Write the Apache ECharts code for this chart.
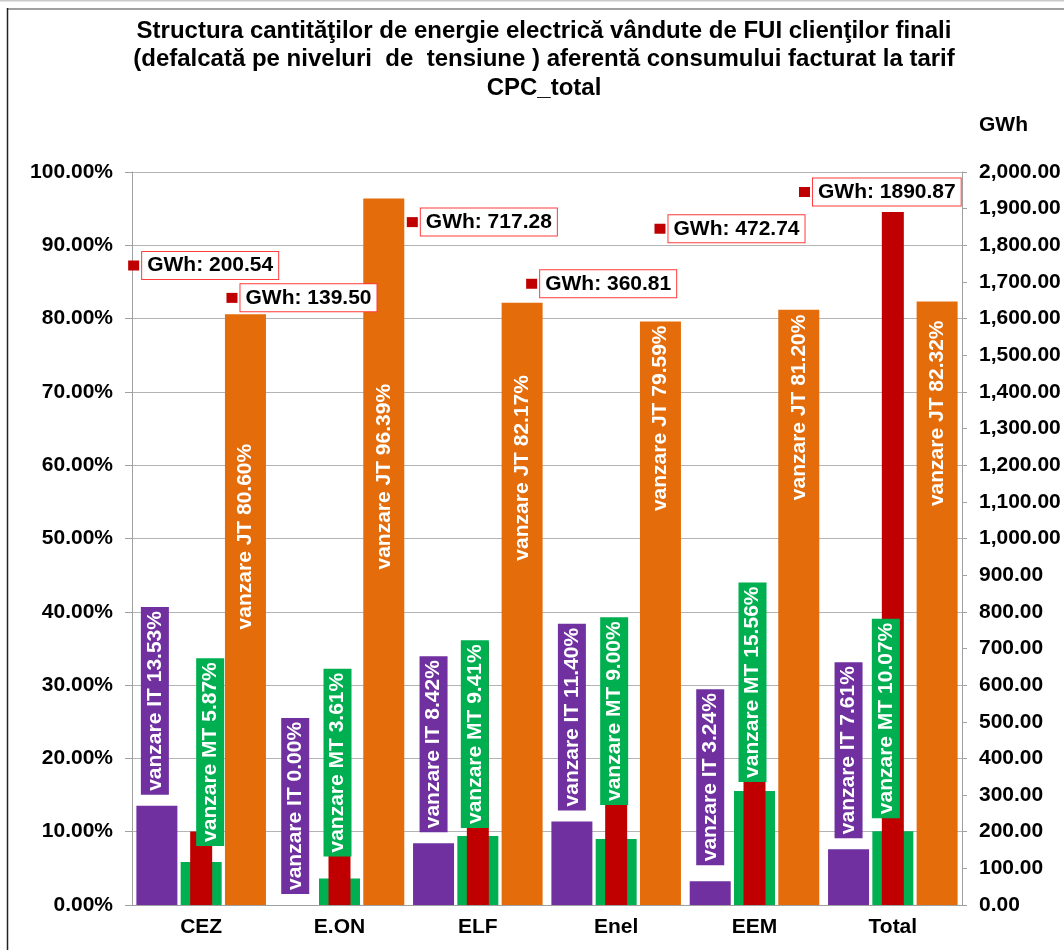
<!DOCTYPE html>
<html>
<head>
<meta charset="utf-8">
<title>Structura cantităţilor de energie electrică vândute de FUI clienţilor finali</title>
<script src="https://cdn.jsdelivr.net/npm/echarts@6/dist/echarts.min.js"></script>
<style>
  html, body { margin: 0; padding: 0; background: #fff; }
  #main { width: 1064px; height: 950px; }
</style>
</head>
<body>
<div id="main"></div>
<script>
// categories and values
var categories = ['CEZ', 'E.ON', 'ELF', 'Enel', 'EEM', 'Total'];
var itShare = [13.53, 0.00, 8.42, 11.40, 3.24, 7.61];     // % vanzare IT
var mtShare = [5.87, 3.61, 9.41, 9.00, 15.56, 10.07];     // % vanzare MT
var jtShare = [80.60, 96.39, 82.17, 79.59, 81.20, 82.32]; // % vanzare JT
var gwh = [200.54, 139.50, 717.28, 360.81, 472.74, 1890.87];

// hand placed labels (screen pixel shifts [dx, dy]), like the moved labels in the original
var itLabelShift = [[-2, 0], [0, 0], [0, 0], [0, 0], [0, -5], [0, 0]];
var mtLabelShift = [[9, -5], [-2, -11], [-3, 3], [-2, -23], [-2, 2], [-7, -2]];
var jtLabelShift = [-73, -75, -136, -195, -200, -190];
var gwhLabelShift = [[2, -566], [-38, -556], [4, -420], [-15, -489], [-25, -503], [-13, -20]];

var font = '"Liberation Sans", Arial, sans-serif';
var purple = '#7030A0', green = '#00B050', orange = '#E46C0A', red = '#C00000';
var gridColor = '#b4b4b4', axisColor = '#a0a0a0';

function pct(v) { return v.toFixed(2) + '%'; }
function thousands(v) {
	var s = v.toFixed(2).split('.');
	return s[0].replace(/\B(?=(\d{3})+(?!\d))/g, ',') + '.' + s[1];
}
// labels are turned 90deg, so their offset is given in the turned frame
function turned(dx, dy) { return [-dy, dx]; }

function boxLabel(name, color) {
	return {
		show: true,
		position: 'top',
		distance: 11,
		rotate: 90,
		align: 'left',
		verticalAlign: 'middle',
		color: '#fff',
		fontFamily: font,
		fontSize: 21,
		fontWeight: 'bold',
		backgroundColor: color,
		padding: [4, 4, 3, 4],
		formatter: function (p) { return 'vanzare ' + name + ' ' + pct(p.value); }
	};
}

var itData = itShare.map(function (v, i) {
	return { value: v, label: { offset: turned(itLabelShift[i][0], itLabelShift[i][1]) } };
});
var mtData = mtShare.map(function (v, i) {
	return { value: v, label: { offset: turned(mtLabelShift[i][0], mtLabelShift[i][1]) } };
});
var jtData = jtShare.map(function (v, i) {
	return { value: v, label: { offset: turned(0, jtLabelShift[i]) } };
});
var gwhData = gwh.map(function (v, i) {
	return { value: v, label: { offset: gwhLabelShift[i] } };
});

var chart = echarts.init(document.getElementById('main'));

var option = {
	backgroundColor: '#fff',
	animation: false,
	title: {
		text: 'Structura cantităţilor de energie electrică vândute de FUI clienţilor finali\n' +
			'(defalcată pe niveluri  de  tensiune ) aferentă consumului facturat la tarif\n' +
			'CPC_total',
		left: 544,
		top: 17,
		padding: 0,
		textAlign: 'center',
		textStyle: { fontFamily: font, fontSize: 24, fontWeight: 'bold', color: '#000', lineHeight: 28.5 }
	},
	grid: { left: 132, right: 102, top: 172, bottom: 45 },
	xAxis: [
		{
			type: 'category',
			data: categories,
			axisLine: { lineStyle: { color: axisColor } },
			axisTick: { length: 5, lineStyle: { color: axisColor } },
			axisLabel: { margin: 12, color: '#000', fontFamily: font, fontSize: 21, fontWeight: 'bold' }
		},
		{ type: 'category', data: categories, show: false }
	],
	yAxis: [
		{
			type: 'value',
			min: 0, max: 100, interval: 10,
			axisLine: { show: true, lineStyle: { color: axisColor } },
			axisTick: { show: true, length: 7, lineStyle: { color: axisColor } },
			axisLabel: { margin: 19, color: '#000', fontFamily: font, fontSize: 21, fontWeight: 'bold', formatter: pct },
			splitLine: { lineStyle: { color: gridColor } }
		},
		{
			type: 'value',
			position: 'right',
			min: 0, max: 2000, interval: 100,
			name: 'GWh',
			nameLocation: 'end',
			nameGap: 36,
			nameTextStyle: { color: '#000', fontFamily: font, fontSize: 21, fontWeight: 'bold', align: 'left', padding: [0, 0, 0, 17] },
			axisLine: { show: true, lineStyle: { color: axisColor } },
			axisTick: { show: true, length: 5, lineStyle: { color: axisColor } },
			axisLabel: { margin: 17, color: '#000', fontFamily: font, fontSize: 21, fontWeight: 'bold', formatter: thousands },
			splitLine: { show: false }
		}
	],
	series: [
		{
			name: 'vanzare IT', type: 'bar', data: itData,
			barWidth: 41, barGap: '8%',
			itemStyle: { color: purple },
			label: boxLabel('IT', purple)
		},
		{
			name: 'vanzare MT', type: 'bar', data: mtData,
			barWidth: 41, barGap: '8%',
			itemStyle: { color: green },
			label: boxLabel('MT', green)
		},
		{
			name: 'vanzare JT', type: 'bar', data: jtData,
			barWidth: 41, barGap: '8%',
			itemStyle: { color: orange },
			label: {
				show: true, position: 'inside', rotate: 90,
				align: 'center', verticalAlign: 'middle', overflow: 'none',
				color: '#fff', fontFamily: font, fontSize: 21, fontWeight: 'bold',
				formatter: function (p) { return 'vanzare JT ' + pct(p.value); }
			}
		},
		{
			name: 'GWh', type: 'bar', data: gwhData,
			xAxisIndex: 1, yAxisIndex: 1,
			barWidth: 22,
			itemStyle: { color: red },
			label: {
				show: true, position: 'top', distance: 0,
				align: 'center', verticalAlign: 'middle',
				formatter: function (p) { return '{k|}{g|}{b|GWh: ' + p.value.toFixed(2) + '}'; },
				rich: {
					k: { width: 11, height: 10, backgroundColor: red },
					g: { width: 3 },
					b: {
						color: '#000', fontFamily: font, fontSize: 21, fontWeight: 'bold',
						backgroundColor: '#fff', borderColor: '#ff3b3b', borderWidth: 1,
						padding: [3, 5, 3, 5], lineHeight: 22
					}
				}
			}
		}
	],
	graphic: [
		{ type: 'line', shape: { x1: 0, y1: 0.5, x2: 1064, y2: 0.5 }, style: { stroke: '#c8c8c8', lineWidth: 2 } },
		{ type: 'line', shape: { x1: 7, y1: 9, x2: 1064, y2: 9 }, style: { stroke: '#808080', lineWidth: 1.5 } },
		{ type: 'line', shape: { x1: 7.5, y1: 8, x2: 7.5, y2: 950 }, style: { stroke: '#222', lineWidth: 1.5 } }
	]
};

chart.setOption(option);
</script>
</body>
</html>
